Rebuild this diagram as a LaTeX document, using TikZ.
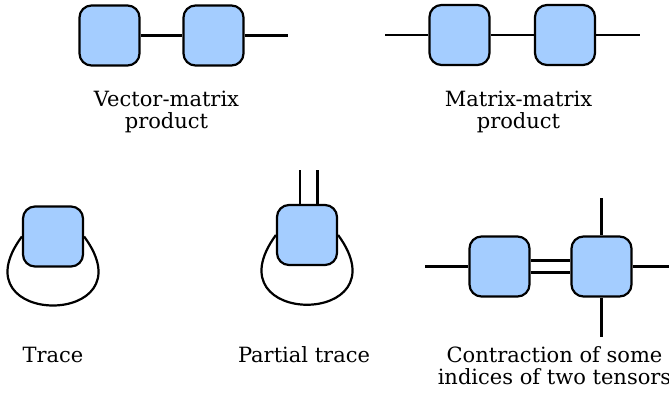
\documentclass[tikz,border=0pt]{standalone}
\usepackage{fontspec}
\setmainfont{DejaVu Serif}
\definecolor{tensorblue}{RGB}{164,205,255}
\begin{document}
\begin{tikzpicture}[x=1pt,y=-1pt,line width=2.2pt,
        tensor/.style={draw,fill=tensorblue,rounded corners=12pt,minimum size=60pt,inner sep=0pt},
        lbl/.style={anchor=base,align=center,font=\fontsize{21}{22}\selectfont}]
                    \useasboundingbox (0,0) rectangle (669,394);

                    \node[tensor] (VM1) at (109.5,35.5) {};
                    \node[tensor] (VM2) at (213.5,35.5) {};
                        \coordinate (VMr) at (288,35.5);

                    \node[tensor] (MM1) at (459.5,35) {};
                    \node[tensor] (MM2) at (565,35) {};
                        \coordinate (MMl) at (385,35);
                        \coordinate (MMr) at (640,35);

                    \node[tensor] (Tr) at (53,236.5) {};

                    \node[tensor] (PTr) at (307,235) {};
                        \coordinate (PTa) at (300,170);
                        \coordinate (PTb) at (317.5,170);

                    \node[tensor] (CT1) at (499.5,266.5) {};
                    \node[tensor] (CT2) at (601.5,266.5) {};
                        \coordinate (CTl) at (425,266.5);
                        \coordinate (CTr) at (669,266.5);
                        \coordinate (CTt) at (601.5,198);
                        \coordinate (CTb) at (601.5,337);

                    \draw (VM1) -- (VM2);
                    \draw (VM2) -- (VMr);

                    \draw (MMl) -- (MM1);
                    \draw (MM1) -- (MM2);
                    \draw (MM2) -- (MMr);

                    \draw (Tr.west) .. controls +(-68,92) and +(68,92) .. (Tr.east);

                    \draw (PTr.west) .. controls +(-68,93) and +(68,93) .. (PTr.east);
                    \draw (PTa) -- (PTa |- PTr.north);
                    \draw (PTb) -- (PTb |- PTr.north);

                    \draw (CTl) -- (CT1);
                    \draw ([yshift=6pt]CT1.east) -- ([yshift=6pt]CT2.west);
                    \draw ([yshift=-6pt]CT1.east) -- ([yshift=-6pt]CT2.west);
                    \draw (CT2) -- (CTr);
                    \draw (CTt) -- (CT2);
                    \draw (CT2) -- (CTb);

                    % two-line labels: base is the last line
                    \node[lbl] (VMlbl) at (166.5,128) {Vector-matrix\\product};
                    \node[lbl] (MMlbl) at (518.5,128) {Matrix-matrix\\product};
                    \node[lbl] (Trlbl) at (53,362) {Trace};
                    \node[lbl] (PTrlbl) at (304,362) {Partial trace};
                    \node[lbl] (CTlbl) at (554.5,384) {Contraction of some\\indices of two tensors};

                \end{tikzpicture}
\end{document}
